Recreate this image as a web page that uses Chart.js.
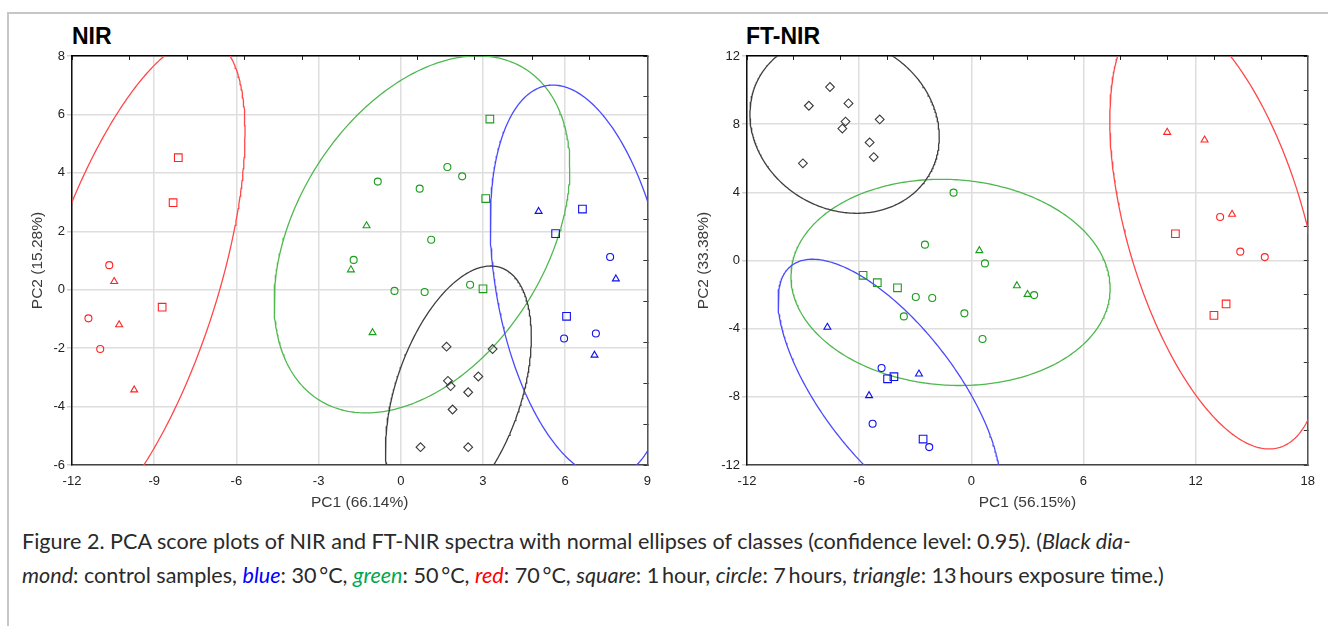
<!DOCTYPE html>
<html>
<head>
<meta charset="utf-8">
<script src="https://cdn.jsdelivr.net/npm/chart.js@4"></script>
<style>
  body { margin: 0; background: #fff; }
  #page { position: relative; width: 1328px; height: 626px; overflow: hidden; }
  #frame { position: absolute; left: 7px; top: 12px; right: -4px; bottom: -4px;
           border-top: 2px solid #c6c6c6; border-left: 2px solid #c6c6c6; }
  .ttl { position: absolute; top: 25px; font: bold 23px/23px "Liberation Sans", Arial, sans-serif; color: #000; }
  canvas { position: absolute; top: 46px; }
  #cap { position: absolute; left: 22px; top: 524px; font: 21.6px/34px Lato, sans-serif;
         color: #2a2a2a; white-space: nowrap; }
</style>
</head>
<body>
<div id="page">
  <div id="frame"></div>
  <div class="ttl" style="left:72px">NIR</div>
  <div class="ttl" style="left:746px">FT-NIR</div>
  <canvas id="nir" width="648" height="470" style="left:12px"></canvas>
  <canvas id="ftnir" width="634" height="470" style="left:690px"></canvas>
  <div id="cap">Figure 2. PCA score plots of NIR and FT-NIR spectra with normal ellipses of classes (confidence level: 0.95). (<i>Black dia-</i><br><i>mond</i>: control samples, <i style="color:#0000ff">blue</i>: 30&#8201;°C, <i style="color:#00a84f">green</i>: 50&#8201;°C, <i style="color:#ff0000">red</i>: 70&#8201;°C, <i>square</i>: 1&#8201;hour, <i>circle</i>: 7&#8201;hours, <i>triangle</i>: 13&#8201;hours exposure time.)</div>
</div>

<script>
// confidence level of the normal (prediction) ellipses
const CONF = 0.95;

// shapes: d = diamond (control), s = square (1 h), c = circle (7 h), t = triangle (13 h)

// ---- NIR scores (PC1, PC2) ----
const NIR_CTRL_X = [1.67, 3.35, 1.72, 1.82, 2.83, 2.46, 1.89, 0.72, 2.46];
const NIR_CTRL_Y = [-1.95, -2.03, -3.12, -3.30, -2.97, -3.51, -4.10, -5.39, -5.39];
const NIR_CTRL_S = ['d', 'd', 'd', 'd', 'd', 'd', 'd', 'd', 'd'];

const NIR_30_X = [6.63, 5.65, 6.05, 7.64, 7.12, 5.96, 5.03, 7.85, 7.07];
const NIR_30_Y = [2.76, 1.92, -0.91, 1.12, -1.50, -1.67, 2.68, 0.37, -2.24];
const NIR_30_S = ['s', 's', 's', 'c', 'c', 'c', 't', 't', 't'];

const NIR_50_X = [3.25, 3.10, 3.00, 1.70, 2.24, -0.84, 0.69, 1.11, -1.72, -0.23, 0.87, 2.53, -1.25, -1.82, -1.03];
const NIR_50_Y = [5.84, 3.12, 0.03, 4.20, 3.88, 3.70, 3.46, 1.71, 1.02, -0.04, -0.08, 0.17, 2.19, 0.68, -1.47];
const NIR_50_S = ['s', 's', 's', 'c', 'c', 'c', 'c', 'c', 'c', 'c', 'c', 'c', 't', 't', 't'];

const NIR_70_X = [-8.12, -8.31, -8.71, -10.64, -11.40, -10.97, -10.46, -10.28, -9.73];
const NIR_70_Y = [4.52, 2.98, -0.60, 0.84, -0.98, -2.03, 0.28, -1.20, -3.43];
const NIR_70_S = ['s', 's', 's', 'c', 'c', 'c', 't', 't', 't'];

// ---- FT-NIR scores (PC1, PC2) ----
const FT_CTRL_X = [-7.56, -8.69, -6.57, -6.73, -6.90, -4.90, -5.44, -5.22, -9.01];
const FT_CTRL_Y = [10.18, 9.08, 9.22, 8.15, 7.74, 8.28, 6.93, 6.07, 5.70];
const FT_CTRL_S = ['d', 'd', 'd', 'd', 'd', 'd', 'd', 'd', 'd'];

const FT_30_X = [-4.48, -4.14, -2.58, -4.80, -5.28, -2.25, -7.70, -2.80, -5.47];
const FT_30_Y = [-6.94, -6.82, -10.48, -6.31, -9.58, -10.95, -3.92, -6.66, -7.93];
const FT_30_S = ['s', 's', 's', 'c', 'c', 'c', 't', 't', 't'];

const FT_50_X = [-5.79, -5.03, -3.95, -0.95, -2.48, 0.73, -2.97, -2.09, -3.61, -0.37, 0.60, 3.36, 0.43, 2.44, 3.01];
const FT_50_Y = [-0.87, -1.30, -1.60, 3.98, 0.93, -0.17, -2.14, -2.20, -3.28, -3.10, -4.61, -2.03, 0.58, -1.48, -1.99];
const FT_50_S = ['s', 's', 's', 'c', 'c', 'c', 'c', 'c', 'c', 'c', 'c', 'c', 't', 't', 't'];

const FT_70_X = [10.92, 13.63, 12.98, 13.31, 14.39, 15.70, 10.48, 12.48, 13.95];
const FT_70_Y = [1.57, -2.55, -3.22, 2.55, 0.52, 0.20, 7.52, 7.07, 2.71];
const FT_70_S = ['s', 's', 's', 'c', 'c', 'c', 't', 't', 't'];

// axis ranges [min, max, step]
const NIR_X_RANGE = [-12, 9, 3];
const NIR_Y_RANGE = [-6, 8, 2];
const FT_X_RANGE = [-12, 18, 6];
const FT_Y_RANGE = [-12, 12, 4];

// class colours: control, 30 °C, 50 °C, 70 °C
const LINE_COLORS = ['#3e3e3e', '#4a4aff', '#4fb84f', '#ff4848'];
const MARK_COLORS = ['#3a3a3a', '#1010ee', '#1c9c1c', '#ff2424'];

const STYLE = { d: 'rectRot', s: 'rect', c: 'circle', t: 'triangle' };
const SIZE = { d: 4.4, s: 5.4, c: 3.5, t: 4.0 };
const FONT = '"Liberation Sans", Arial, sans-serif';

// prediction ellipse of a class, from its own scores
function normalEllipse(xs, ys, level) {
  const n = xs.length;
  const mx = xs.reduce((a, b) => a + b, 0) / n;
  const my = ys.reduce((a, b) => a + b, 0) / n;
  let sxx = 0, syy = 0, sxy = 0;
  for (let i = 0; i < n; i++) {
    const dx = xs[i] - mx, dy = ys[i] - my;
    sxx += dx * dx; syy += dy * dy; sxy += dx * dy;
  }
  sxx /= n - 1; syy /= n - 1; sxy /= n - 1;
  const d2 = n - 2;
  const f = d2 / 2 * (Math.pow(1 - level, -2 / d2) - 1);   // F(2, n-2) quantile
  const k = 2 * (n - 1) * (n + 1) / (n * d2) * f;
  const a = Math.sqrt(sxx), b = sxy / a, c = Math.sqrt(syy - b * b);
  const r = Math.sqrt(k);
  const pts = [];
  for (let i = 0; i <= 360; i++) {
    const t = i / 360 * 2 * Math.PI;
    pts.push({ x: mx + r * a * Math.cos(t), y: my + r * (b * Math.cos(t) + c * Math.sin(t)) });
  }
  return pts;
}

function buildChart(id, classes, xr, yr, ticksX2, ticksY2, xTitle, yTitle, yWidth, yTitlePad) {
  const pointSets = classes.map((g, ci) => ({
    data: g[0].map((x, i) => ({ x: x, y: g[1][i] })),
    pointStyle: g[2].map(s => STYLE[s]),
    pointRadius: g[2].map(s => SIZE[s]),
    pointHoverRadius: g[2].map(s => SIZE[s]),
    pointBorderColor: MARK_COLORS[ci],
    pointBackgroundColor: 'rgba(0,0,0,0)',
    pointBorderWidth: 1.1,
    showLine: false,
    xAxisID: 'x', yAxisID: 'y'
  }));
  const ellipseSets = classes.map((g, ci) => ({
    data: normalEllipse(g[0], g[1], CONF),
    showLine: true,
    pointRadius: 0,
    borderColor: LINE_COLORS[ci],
    borderWidth: 1.3,
    tension: 0,
    clip: 0,
    xAxisID: 'x', yAxisID: 'y'
  }));

  return new Chart(document.getElementById(id), {
    type: 'scatter',
    data: { datasets: pointSets.concat(ellipseSets) },
    options: {
      responsive: false,
      animation: false,
      events: [],
      layout: { padding: { top: 10, right: id === 'nir' ? 11 : 12, left: 0, bottom: 0 } },
      plugins: { legend: { display: false }, tooltip: { enabled: false } },
      scales: {
        x: {
          type: 'linear', position: 'bottom', min: xr[0], max: xr[1],
          ticks: { stepSize: xr[2], padding: 9, color: '#222', font: { family: FONT, size: 13 }, maxRotation: 0, autoSkip: false },
          grid: { color: '#dedede', lineWidth: 1.5, drawTicks: false },
          border: { color: '#444', width: 1.5 },
          title: { display: true, text: xTitle, color: '#3a3a3a', font: { family: FONT, size: 15.5 }, padding: { top: 4, bottom: 4 } },
          afterFit: s => { s.height = 51; }
        },
        y: {
          type: 'linear', position: 'left', min: yr[0], max: yr[1],
          ticks: { stepSize: yr[2], padding: 2, color: '#222', font: { family: FONT, size: 13 }, autoSkip: false },
          grid: { color: '#dedede', lineWidth: 1.5, tickLength: 5, tickColor: '#d0d0d0' },
          border: { color: '#111', width: 1.5 },
          title: { display: true, text: yTitle, color: '#3a3a3a', font: { family: FONT, size: 15.5 }, padding: { top: yTitlePad, bottom: 0 } },
          afterFit: s => { s.width = yWidth; }
        },
        x2: {
          type: 'linear', position: 'top', min: 0, max: ticksX2,
          ticks: { display: false, stepSize: 1 },
          grid: { drawOnChartArea: false, tickLength: -4, tickColor: '#222', lineWidth: 1 },
          border: { color: '#000', width: 1.5 },
          afterFit: s => { s.height = 0; }
        },
        y2: {
          type: 'linear', position: 'right', min: 0, max: ticksY2,
          ticks: { display: false, stepSize: 1 },
          grid: { drawOnChartArea: false, tickLength: -4, tickColor: '#333', lineWidth: 1 },
          border: { color: '#555', width: 1.5 },
          afterFit: s => { s.width = 0; }
        }
      }
    }
  });
}

buildChart('nir', [
  [NIR_CTRL_X, NIR_CTRL_Y, NIR_CTRL_S],
  [NIR_30_X, NIR_30_Y, NIR_30_S],
  [NIR_50_X, NIR_50_Y, NIR_50_S],
  [NIR_70_X, NIR_70_Y, NIR_70_S]
], NIR_X_RANGE, NIR_Y_RANGE, 10, 10, 'PC1 (66.14%)', 'PC2 (15.28%)', 60, 16);

buildChart('ftnir', [
  [FT_CTRL_X, FT_CTRL_Y, FT_CTRL_S],
  [FT_30_X, FT_30_Y, FT_30_S],
  [FT_50_X, FT_50_Y, FT_50_S],
  [FT_70_X, FT_70_Y, FT_70_S]
], FT_X_RANGE, FT_Y_RANGE, 12, 12, 'PC1 (56.15%)', 'PC2 (33.38%)', 57, 4);
</script>
</body>
</html>
